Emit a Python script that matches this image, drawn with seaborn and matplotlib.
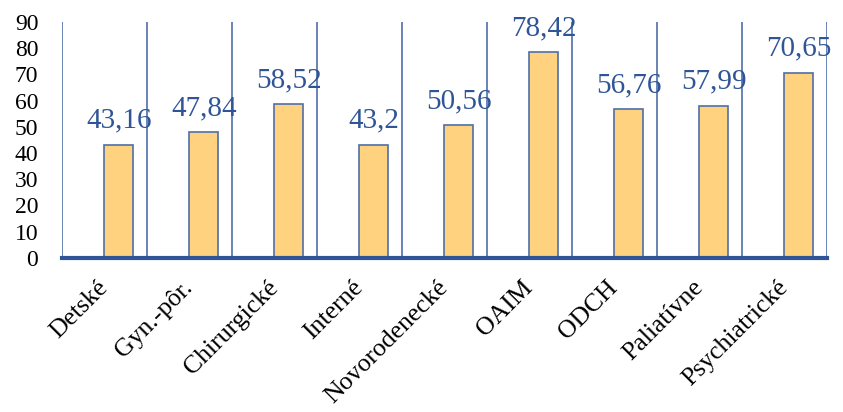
import matplotlib
matplotlib.use("Agg")
import numpy as np
import pandas as pd
import matplotlib.pyplot as plt
import seaborn as sns

# =========================
# Data
# =========================
departments = ["Detské", "Gyn.-pôr.", "Chirurgické", "Interné", "Novorodenecké",
               "OAIM", "ODCH", "Paliatívne", "Psychiatrické"]
values = [43.16, 47.84, 58.52, 43.2, 50.56, 78.42, 56.76, 57.99, 70.65]
value_labels = ["43,16", "47,84", "58,52", "43,2", "50,56", "78,42", "56,76", "57,99", "70,65"]
y_ticks = [0, 10, 20, 30, 40, 50, 60, 70, 80, 90]

# Excel-style cluster: an empty first series pushes the bar right of centre
series = ["prázdny", "skóre"]
df = pd.DataFrame({
    "oddelenie": departments * 2,
    "hodnota": [np.nan] * len(departments) + values,
    "rad": [series[0]] * len(departments) + [series[1]] * len(departments),
})

# =========================
# Style
# =========================
sns.set_theme(style="white")
plt.rcParams["font.family"] = ["Liberation Serif", "DejaVu Serif"]

line_blue = "#4F6FA8"
axis_blue = "#2F5597"
label_blue = "#2F5597"
bar_fill = "#FFD280"

fig = plt.figure(figsize=(8.43, 4.12), dpi=100)
ax = fig.add_axes([0.0735, 0.374, 0.9075, 0.573])

sns.barplot(
    data=df, x="oddelenie", y="hodnota", hue="rad", hue_order=series,
    order=departments, palette={series[0]: "white", series[1]: bar_fill},
    width=0.68, saturation=1, edgecolor=line_blue, linewidth=1.2,
    legend=False, ax=ax, errorbar=None,
)

ax.bar_label(ax.containers[-1], labels=value_labels, padding=8,
             fontsize=21, color=label_blue)

# category separators
ax.set_xticks(np.arange(len(departments) + 1) - 0.5, minor=True)
ax.grid(axis="x", which="minor", color=line_blue, linewidth=1.2)
ax.grid(axis="x", which="major", visible=False)
ax.grid(axis="y", visible=False)

ax.set_xlim(-0.5, len(departments) - 0.5)
ax.set_ylim(0, 90)
ax.set_yticks(y_ticks)
ax.tick_params(axis="y", length=0, pad=17, labelsize=17, colors="black")
ax.tick_params(axis="x", which="both", length=0, pad=19, labelsize=18.5, colors="black")
plt.setp(ax.get_xticklabels(), rotation=45, ha="right", va="center",
         rotation_mode="anchor")

ax.set_xlabel("")
ax.set_ylabel("")
for side in ["left", "top", "right"]:
    ax.spines[side].set_visible(False)
ax.spines["bottom"].set_color(axis_blue)
ax.spines["bottom"].set_linewidth(3)
ax.spines["bottom"].set_zorder(5)

fig.savefig("out.png", dpi=100)
